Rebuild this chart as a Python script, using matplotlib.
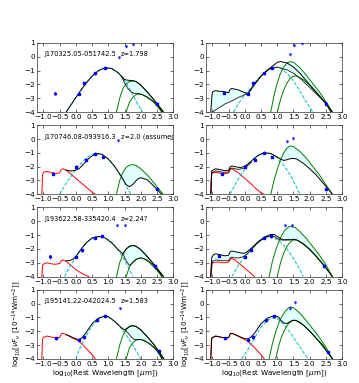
import matplotlib
matplotlib.use('Agg')
import matplotlib.pyplot as plt
import numpy as np

# ---- labels
names = ['J170325.05-051742.5', 'J170746.08-093916.3', 'J193622.58-335420.4', 'J195141.22-042024.5']
redshifts = ['z=1.798', 'z=2.0 (assumed)', 'z=2.24?', 'z=1.583']

# ---- panel A (row 1, left)
A_cyan_x = [-0.3, -0.1, 0.1, 0.3, 0.5, 0.7, 0.9, 1.1, 1.3, 1.5, 1.7, 1.9, 2.05]
A_cyan_y = [-4, -3.3, -2.6, -1.95, -1.4, -1.0, -0.8, -0.85, -1.15, -1.7, -2.5, -3.4, -4]
A_black1_x = [-0.3, -0.1, 0.1, 0.3, 0.5, 0.7, 0.9, 1.1, 1.3, 1.4, 1.5, 1.6, 1.7, 1.8, 1.9, 2.0, 2.2, 2.4, 2.6, 2.7]
A_black1_y = [-4, -3.3, -2.6, -1.95, -1.4, -1.0, -0.8, -0.85, -1.15, -1.4, -1.65, -1.7, -1.72, -1.75, -1.85, -2.05, -2.55, -3.1, -3.7, -4]
A_black2_x = [1.4, 1.5, 1.6, 1.7, 1.8, 1.9, 2.0, 2.2, 2.4, 2.5, 2.6, 2.65]
A_black2_y = [-1.4, -1.9, -2.3, -2.55, -2.65, -2.65, -2.7, -2.9, -3.25, -3.45, -3.8, -4]
A_green1_x = [1.25, 1.35, 1.45, 1.55, 1.65, 1.75, 1.85, 2.0, 2.2, 2.4, 2.6, 2.7]
A_green1_y = [-4, -3.0, -2.3, -1.95, -1.8, -1.75, -1.8, -2.05, -2.55, -3.1, -3.7, -4]
A_green2_x = [1.55, 1.65, 1.75, 1.85, 1.95, 2.05, 2.2, 2.4, 2.55, 2.65]
A_green2_y = [-4, -3.3, -2.95, -2.75, -2.7, -2.75, -2.95, -3.3, -3.7, -4]
A_pts_x = [0.1, 0.25, 0.6, 0.9, 2.5]
A_pts_y = [-2.7, -1.9, -1.2, -0.8, -3.4]
A_arrow = (-0.65, -2.6)
A_lim_x = [1.33, 1.53, 1.75]
A_lim_y = [0.0, 0.75, 0.95]

# ---- panel B (row 1, right)
B_cyan_x = [-0.35, -0.2, 0.0, 0.2, 0.4, 0.6, 0.8, 0.95, 1.1, 1.3, 1.5, 1.7, 1.9, 2.1]
B_cyan_y = [-4, -3.4, -2.75, -2.2, -1.6, -1.15, -0.85, -0.75, -0.85, -1.2, -1.75, -2.5, -3.3, -4]
B_black1_x = [-1.05, -1.02, -1.0, -0.9, -0.8, -0.7, -0.6, -0.5, -0.45, -0.4, -0.3, -0.2, -0.1, 0.0, 0.1, 0.2, 0.3, 0.5, 0.7, 0.9, 1.0, 1.1, 1.2, 1.3, 1.5, 1.7, 1.9, 2.1, 2.3, 2.5, 2.7]
B_black1_y = [-4, -3.0, -2.55, -2.45, -2.5, -2.5, -2.55, -2.6, -2.35, -2.3, -2.35, -2.4, -2.5, -2.6, -2.65, -2.3, -2.0, -1.4, -0.95, -0.6, -0.4, -0.35, -0.4, -0.45, -0.75, -1.2, -1.75, -2.3, -2.85, -3.35, -4]
B_black2_x = [-1.0, -0.8, -0.6, -0.4, -0.2, 0.0, 0.1, 0.2, 0.3, 0.5, 0.7, 0.8, 0.9, 1.0, 1.1, 1.2, 1.3, 1.5, 1.7, 1.9, 2.1, 2.3, 2.5, 2.65]
B_black2_y = [-4, -3.7, -3.4, -3.2, -2.95, -2.75, -2.7, -2.35, -2.0, -1.4, -1.0, -0.85, -0.8, -0.75, -0.8, -0.9, -0.95, -1.2, -1.55, -2.0, -2.45, -2.9, -3.4, -4]
B_green1_x = [0.8, 0.9, 1.0, 1.1, 1.2, 1.3, 1.4, 1.5, 1.7, 1.9, 2.1, 2.3, 2.5, 2.7]
B_green1_y = [-4, -2.8, -1.9, -1.2, -0.75, -0.45, -0.35, -0.4, -0.8, -1.35, -1.95, -2.55, -3.25, -4]
B_green2_x = [1.0, 1.1, 1.2, 1.3, 1.4, 1.5, 1.6, 1.8, 2.0, 2.2, 2.4, 2.6, 2.67]
B_green2_y = [-4, -3.1, -2.4, -1.9, -1.55, -1.4, -1.4, -1.65, -2.05, -2.55, -3.1, -3.7, -4]
B_pts_x = [-0.65, 0.1, 0.25, 0.6, 0.85, 2.5]
B_pts_y = [-2.6, -2.7, -1.9, -1.2, -0.8, -3.4]
B_lim_x = [1.4, 1.53, 1.75]
B_lim_y = [0.2, 0.85, 0.97]

# ---- panel C (row 2, left)
C_red_x = [-1.05, -1.03, -1.0, -0.9, -0.8, -0.7, -0.6, -0.5, -0.45, -0.4, -0.3, -0.2, -0.1, 0.0, 0.1, 0.2, 0.3, 0.4, 0.5, 0.6]
C_red_y = [-4, -2.6, -2.4, -2.35, -2.4, -2.45, -2.5, -2.45, -2.2, -2.15, -2.25, -2.45, -2.65, -2.85, -3.05, -3.25, -3.45, -3.65, -3.85, -4]
C_black_x = [-0.3, -0.2, -0.1, 0.0, 0.1, 0.2, 0.4, 0.6, 0.8, 1.0, 1.2, 1.4, 1.55, 1.65, 1.75, 1.9, 2.0, 2.2, 2.4, 2.6, 2.65]
C_black_y = [-2.25, -2.3, -2.3, -2.25, -2.15, -1.9, -1.4, -1.05, -1.1, -1.45, -2.0, -2.7, -3.3, -3.45, -3.3, -2.9, -2.8, -2.95, -3.4, -3.9, -4]
C_cyan_x = [-0.5, -0.3, -0.1, 0.1, 0.3, 0.5, 0.6, 0.8, 1.0, 1.2, 1.4, 1.6, 1.7]
C_cyan_y = [-4, -3.2, -2.5, -1.9, -1.4, -1.1, -1.05, -1.1, -1.45, -2.0, -2.75, -3.6, -4]
C_green1_x = [1.25, 1.35, 1.45, 1.55, 1.65, 1.75, 1.85, 2.0, 2.2, 2.4, 2.6, 2.7]
C_green1_y = [-4, -3.0, -2.4, -2.05, -1.9, -1.85, -1.9, -2.15, -2.6, -3.15, -3.75, -4]
C_pts_x = [-0.7, 0.0, 0.3, 0.6, 0.85, 2.5]
C_pts_y = [-2.5, -2.0, -1.5, -1.05, -1.3, -3.6]
C_lim_x = [1.3]
C_lim_y = [-0.05]

# ---- panel D (row 2, right)
D_red_x = C_red_x
D_red_y = [-4, -2.6, -2.45, -2.4, -2.45, -2.5, -2.5, -2.45, -2.2, -2.15, -2.3, -2.45, -2.65, -2.85, -3.05, -3.25, -3.5, -3.7, -3.9, -4]
D_black1_x = [-1.05, -1.02, -0.9, -0.8, -0.7, -0.6, -0.5, -0.45, -0.4, -0.3, -0.2, -0.1, 0.0, 0.1, 0.2, 0.4, 0.6, 0.8, 1.0, 1.1, 1.2, 1.3, 1.4, 1.5, 1.6, 1.8, 2.0, 2.2, 2.4, 2.6, 2.7]
D_black1_y = [-4, -2.3, -2.15, -2.2, -2.25, -2.3, -2.25, -2.0, -1.95, -2.0, -2.05, -2.05, -1.95, -1.8, -1.6, -1.2, -1.0, -1.05, -1.3, -1.45, -1.55, -1.5, -1.42, -1.4, -1.45, -1.75, -2.15, -2.6, -3.15, -3.7, -4]
D_black2_x = [-1.05, -1.02, -0.9, -0.7, -0.5, -0.45, -0.4, -0.2, 0.0, 0.2]
D_black2_y = [-4, -2.45, -2.3, -2.4, -2.4, -2.15, -2.1, -2.2, -2.1, -1.7]
D_cyan_x = [-0.45, -0.3, -0.1, 0.1, 0.3, 0.5, 0.6, 0.8, 1.0, 1.2, 1.4, 1.6, 1.7]
D_cyan_y = [-4, -3.3, -2.5, -1.85, -1.35, -1.05, -1.0, -1.05, -1.35, -1.9, -2.6, -3.5, -4]
D_green1_x = [0.8, 0.9, 1.0, 1.1, 1.2, 1.3, 1.4, 1.5, 1.7, 1.9, 2.1, 2.3, 2.5, 2.7]
D_green1_y = [-4, -3.0, -2.2, -1.5, -1.0, -0.65, -0.5, -0.55, -0.9, -1.4, -2.0, -2.6, -3.3, -4]
D_pts_x = [-0.7, 0.0, 0.3, 0.6, 0.85, 2.5]
D_pts_y = [-2.5, -2.0, -1.5, -1.0, -1.3, -3.6]
D_lim_x = [1.3, 1.5]
D_lim_y = [-0.15, 0.1]

# ---- panel E (row 3, left)
E_red_x = [-1.05, -1.03, -1.0, -0.9, -0.8, -0.7, -0.6, -0.5, -0.45, -0.4, -0.3, -0.2, -0.1, 0.0, 0.1, 0.2, 0.3, 0.4]
E_red_y = [-4, -3.2, -3.1, -3.0, -3.05, -3.1, -3.1, -3.05, -2.85, -2.8, -2.9, -3.1, -3.3, -3.5, -3.65, -3.8, -3.9, -4]
E_black1_x = [-0.3, -0.2, -0.1, 0.0, 0.1, 0.3, 0.5, 0.7, 0.9, 1.1, 1.3, 1.45, 1.55, 1.65, 1.75, 1.85, 2.0, 2.2, 2.4, 2.6, 2.7]
E_black1_y = [-2.85, -2.85, -2.75, -2.55, -2.2, -1.6, -1.2, -1.1, -1.2, -1.55, -2.05, -2.35, -2.0, -1.82, -1.75, -1.8, -2.05, -2.55, -3.1, -3.7, -4]
E_black2_x = [1.45, 1.55, 1.65, 1.75, 1.9, 2.0, 2.2, 2.4, 2.6, 2.65]
E_black2_y = [-2.35, -2.85, -3.2, -3.0, -2.7, -2.65, -2.8, -3.2, -3.75, -4]
E_cyan_x = [-0.35, -0.2, 0.0, 0.2, 0.4, 0.6, 0.75, 0.9, 1.1, 1.3, 1.5, 1.65, 1.75]
E_cyan_y = [-4, -3.3, -2.6, -1.9, -1.4, -1.15, -1.1, -1.2, -1.5, -2.05, -2.8, -3.5, -4]
E_green1_x = A_green1_x
E_green1_y = [-4, -3.0, -2.35, -2.0, -1.8, -1.75, -1.8, -2.05, -2.55, -3.1, -3.7, -4]
E_green2_x = [1.55, 1.65, 1.75, 1.85, 2.0, 2.1, 2.25, 2.4, 2.55, 2.65]
E_green2_y = [-4, -3.3, -2.95, -2.75, -2.65, -2.7, -2.95, -3.3, -3.7, -4]
E_pts_x = [0.0, 0.2, 0.6, 0.8, 2.45]
E_pts_y = [-2.55, -2.1, -1.2, -1.1, -3.2]
E_arrow = (-0.8, -2.5)
E_lim_x = [1.27, 1.5]
E_lim_y = [-0.24, -0.24]

# ---- panel F (row 3, right)
F_red_x = [-1.05, -1.03, -1.0, -0.9, -0.8, -0.7, -0.6, -0.5, -0.45, -0.4, -0.3, -0.2, -0.1, 0.0, 0.1, 0.2, 0.3]
F_red_y = [-4, -3.1, -3.0, -2.95, -2.95, -3.0, -3.0, -2.95, -2.75, -2.7, -2.8, -3.0, -3.2, -3.4, -3.6, -3.8, -4]
F_black1_x = [-1.05, -1.02, -0.95, -0.9, -0.8, -0.7, -0.6, -0.5, -0.45, -0.4, -0.3, -0.2, -0.1, 0.0, 0.1, 0.2, 0.4, 0.6, 0.8, 0.9, 1.0, 1.1, 1.2, 1.4, 1.5, 1.6, 1.8, 2.0, 2.2, 2.4, 2.6, 2.7]
F_black1_y = [-4, -2.6, -2.4, -2.35, -2.4, -2.45, -2.5, -2.45, -2.2, -2.15, -2.2, -2.25, -2.3, -2.3, -2.15, -1.95, -1.5, -1.15, -0.95, -0.95, -1.1, -1.25, -1.35, -1.35, -1.3, -1.35, -1.65, -2.05, -2.55, -3.1, -3.7, -4]
F_black2_x = [-1.05, -1.0, -0.9, -0.7, -0.5, -0.45, -0.4, -0.3, -0.2, -0.1, 0.0, 0.1, 0.2, 0.4, 0.6, 0.8, 0.9, 1.0, 1.1, 1.2, 1.4]
F_black2_y = [-4, -2.9, -2.8, -2.85, -2.85, -2.65, -2.6, -2.65, -2.65, -2.6, -2.5, -2.3, -2.05, -1.55, -1.2, -1.05, -1.1, -1.25, -1.35, -1.35, -1.3]
F_cyan_x = [-0.4, -0.2, 0.0, 0.2, 0.4, 0.6, 0.75, 0.9, 1.1, 1.3, 1.5, 1.7, 1.8]
F_cyan_y = [-4, -3.2, -2.55, -2.0, -1.55, -1.2, -1.1, -1.2, -1.5, -2.0, -2.7, -3.5, -4]
F_green1_x = [0.75, 0.85, 0.95, 1.05, 1.15, 1.25, 1.35, 1.45, 1.55, 1.7, 1.9, 2.1, 2.3, 2.5, 2.7]
F_green1_y = [-4, -2.9, -2.1, -1.45, -0.95, -0.6, -0.4, -0.38, -0.45, -0.75, -1.25, -1.85, -2.45, -3.15, -4]
F_green2_x = [1.0, 1.1, 1.2, 1.3, 1.4, 1.5, 1.6, 1.8, 2.0, 2.2, 2.4, 2.6, 2.7]
F_green2_y = [-4, -3.0, -2.3, -1.8, -1.5, -1.35, -1.35, -1.6, -2.0, -2.5, -3.05, -3.65, -4]
F_pts_x = [-0.8, 0.0, 0.2, 0.6, 0.8, 2.45]
F_pts_y = [-2.5, -2.55, -2.1, -1.2, -1.1, -3.2]
F_lim_x = [1.25, 1.45]
F_lim_y = [-0.25, -0.25]

# ---- panel G (row 4, left)
G_red_x = [-1.05, -1.03, -1.0, -0.9, -0.8, -0.7, -0.6, -0.5, -0.45, -0.4, -0.3, -0.2, -0.1, 0.0, 0.1, 0.2, 0.3, 0.4, 0.5, 0.6]
G_red_y = [-4, -2.6, -2.45, -2.35, -2.4, -2.45, -2.5, -2.45, -2.2, -2.15, -2.25, -2.35, -2.5, -2.6, -2.75, -2.95, -3.2, -3.45, -3.7, -4]
G_black1_x = [-0.3, -0.2, -0.1, 0.0, 0.1, 0.2, 0.3, 0.5, 0.7, 0.9, 1.0, 1.2, 1.4, 1.5, 1.6, 1.7, 1.75, 1.85, 2.0, 2.2, 2.4, 2.6, 2.7]
G_black1_y = [-2.25, -2.35, -2.45, -2.55, -2.6, -2.45, -2.15, -1.45, -1.05, -0.9, -0.95, -1.3, -1.75, -1.9, -1.75, -1.62, -1.6, -1.65, -1.9, -2.4, -2.95, -3.6, -4]
G_black2_x = [1.5, 1.6, 1.7, 1.8, 1.9, 2.0, 2.2, 2.4, 2.6, 2.66]
G_black2_y = [-1.9, -2.1, -2.4, -2.6, -2.6, -2.6, -2.8, -3.15, -3.7, -4]
G_cyan_x = [0.0, 0.1, 0.3, 0.5, 0.7, 0.9, 1.1, 1.3, 1.5, 1.7, 1.9, 2.0]
G_cyan_y = [-4, -3.35, -2.4, -1.6, -1.1, -0.9, -1.1, -1.5, -2.1, -2.8, -3.6, -4]
G_green1_x = [1.25, 1.35, 1.45, 1.55, 1.65, 1.75, 1.85, 2.0, 2.2, 2.4, 2.6, 2.72]
G_green1_y = [-4, -3.0, -2.3, -1.9, -1.65, -1.6, -1.65, -1.9, -2.4, -2.95, -3.6, -4]
G_green2_x = [1.55, 1.65, 1.75, 1.85, 2.0, 2.1, 2.3, 2.5, 2.65]
G_green2_y = [-4, -3.2, -2.85, -2.65, -2.6, -2.65, -2.95, -3.4, -4]
G_pts_x = [-0.6, 0.1, 0.25, 0.65, 0.9, 2.55]
G_pts_y = [-2.5, -2.6, -2.4, -1.2, -0.9, -3.4]
G_lim_x = [1.35]
G_lim_y = [-0.35]

# ---- panel H (row 4, right)
H_red_x = G_red_x
H_red_y = G_red_y
H_black1_x = [-1.05, -1.02, -0.9, -0.7, -0.6, -0.5, -0.45, -0.4, -0.3, -0.1, 0.0, 0.1, 0.2, 0.3, 0.5, 0.7, 0.85, 0.95, 1.05, 1.1, 1.2, 1.3, 1.4, 1.5, 1.6, 1.8, 2.0, 2.2, 2.4, 2.55, 2.7]
H_black1_y = [-4, -2.5, -2.35, -2.45, -2.5, -2.45, -2.2, -2.15, -2.25, -2.45, -2.55, -2.55, -2.4, -2.15, -1.45, -1.05, -0.92, -0.9, -1.0, -1.2, -1.4, -1.45, -1.3, -1.2, -1.25, -1.55, -2.0, -2.5, -3.0, -3.5, -4]
H_cyan_x = [-0.1, 0.1, 0.3, 0.5, 0.7, 0.85, 1.0, 1.2, 1.4, 1.6, 1.8, 1.95]
H_cyan_y = [-4, -3.3, -2.5, -1.7, -1.2, -1.05, -1.1, -1.5, -2.1, -2.8, -3.5, -4]
H_green1_x = [0.75, 0.85, 0.95, 1.05, 1.15, 1.25, 1.35, 1.4, 1.5, 1.7, 1.9, 2.1, 2.3, 2.5, 2.7]
H_green1_y = [-4, -2.9, -2.05, -1.4, -0.9, -0.55, -0.3, -0.25, -0.3, -0.7, -1.25, -1.85, -2.45, -3.15, -4]
H_green2_x = [0.95, 1.05, 1.15, 1.25, 1.35, 1.45, 1.55, 1.7, 1.9, 2.1, 2.3, 2.5, 2.7]
H_green2_y = [-4, -3.0, -2.3, -1.8, -1.45, -1.25, -1.2, -1.35, -1.75, -2.25, -2.8, -3.4, -4]
H_pts_x = [-0.6, 0.1, 0.25, 0.65, 0.9, 2.55]
H_pts_y = [-2.5, -2.6, -2.4, -1.2, -0.9, -3.5]
H_lim_x = [1.4, 1.55]
H_lim_y = [-0.3, 0.1]

plt.rcParams['font.size'] = 5.2
plt.rcParams['xtick.direction'] = 'in'
plt.rcParams['ytick.direction'] = 'in'
plt.rcParams['xtick.top'] = True
plt.rcParams['ytick.right'] = True
plt.rcParams['xtick.major.size'] = 2
plt.rcParams['ytick.major.size'] = 2
plt.rcParams['xtick.major.width'] = 0.4
plt.rcParams['ytick.major.width'] = 0.4
plt.rcParams['axes.linewidth'] = 0.5
plt.rcParams['axes.edgecolor'] = '#333333'
plt.rcParams['xtick.major.pad'] = 1.5
plt.rcParams['ytick.major.pad'] = 1.5

LW = 0.7


def line(ax, x, y, style, **kw):
    ax.plot(x, y, style, lw=LW, **kw)


def band(ax, xu, yu, xl, yl, x0, x1):
    ''' shade between an upper and a lower curve, between x0 and x1 '''
    xu, yu, xl, yl = map(np.asarray, (xu, yu, xl, yl))
    mu = (xu >= x0) & (xu <= x1)
    ml = (xl >= x0) & (xl <= x1)
    px = np.concatenate([xu[mu], xl[ml][::-1]])
    py = np.concatenate([yu[mu], yl[ml][::-1]])
    ax.fill(px, py, color='#e0ffff', lw=0, zorder=0)


def points(ax, x, y):
    ax.errorbar(x, y, yerr=0.1, fmt='s', color='b', ms=1.7, lw=0.5, capsize=0, zorder=5)


def limits(ax, x, y):
    ax.errorbar(x, y, yerr=[[0.15] * len(x), [0.0] * len(x)], fmt='s', color='b', ms=0.9,
                lw=0.5, capsize=0, alpha=0.7, zorder=5)


def arrow(ax, xy):
    ax.errorbar([xy[0]], [xy[1]], yerr=[[0.2], [0.0]], fmt='^', color='b', ms=1.7, lw=0.5, zorder=5)


fig, axes = plt.subplots(4, 2, figsize=(3.59, 3.83), dpi=100)
fig.subplots_adjust(left=0.103, right=0.953, top=0.888, bottom=0.063, hspace=0.19, wspace=0.24)

# row 1
ax = axes[0, 0]
band(ax, A_black1_x, A_black1_y, A_black2_x, A_black2_y, 1.4, 2.7)
line(ax, A_cyan_x, A_cyan_y, 'c--')
line(ax, A_green1_x, A_green1_y, 'g-')
line(ax, A_green2_x, A_green2_y, 'g-')
line(ax, A_black1_x, A_black1_y, 'k-')
line(ax, A_black2_x, A_black2_y, 'k-', alpha=0.8)
points(ax, A_pts_x, A_pts_y)
arrow(ax, A_arrow)
limits(ax, A_lim_x, A_lim_y)

ax = axes[0, 1]
band(ax, B_black1_x, B_black1_y, B_black2_x, B_black2_y, -1.05, 0.2)
band(ax, B_green1_x, B_green1_y, B_black2_x, B_black2_y, 1.2, 2.7)
line(ax, B_cyan_x, B_cyan_y, 'c--')
line(ax, B_green1_x, B_green1_y, 'g-')
line(ax, B_green2_x, B_green2_y, 'g-')
line(ax, B_black1_x, B_black1_y, 'k-')
line(ax, B_black2_x, B_black2_y, 'k-', alpha=0.8)
points(ax, B_pts_x, B_pts_y)
limits(ax, B_lim_x, B_lim_y)

# row 2
ax = axes[1, 0]
band(ax, C_green1_x, C_green1_y, C_black_x, C_black_y, 1.4, 2.65)
line(ax, C_red_x, C_red_y, 'r-')
line(ax, C_cyan_x, C_cyan_y, 'c--')
line(ax, C_green1_x, C_green1_y, 'g-')
line(ax, C_black_x, C_black_y, 'k-')
points(ax, C_pts_x, C_pts_y)
limits(ax, C_lim_x, C_lim_y)

ax = axes[1, 1]
band(ax, D_green1_x, D_green1_y, D_black1_x, D_black1_y, 1.1, 2.7)
line(ax, D_red_x, D_red_y, 'r-')
line(ax, D_cyan_x, D_cyan_y, 'c--')
line(ax, D_green1_x, D_green1_y, 'g-')
line(ax, D_black1_x, D_black1_y, 'k-')
line(ax, D_black2_x, D_black2_y, 'k-', alpha=0.8)
points(ax, D_pts_x, D_pts_y)
limits(ax, D_lim_x, D_lim_y)

# row 3
ax = axes[2, 0]
band(ax, E_black1_x, E_black1_y, E_black2_x, E_black2_y, 1.45, 2.7)
line(ax, E_red_x, E_red_y, 'r-')
line(ax, E_cyan_x, E_cyan_y, 'c--')
line(ax, E_green1_x, E_green1_y, 'g-')
line(ax, E_green2_x, E_green2_y, 'g-')
line(ax, E_black1_x, E_black1_y, 'k-')
line(ax, E_black2_x, E_black2_y, 'k-', alpha=0.8)
points(ax, E_pts_x, E_pts_y)
arrow(ax, E_arrow)
limits(ax, E_lim_x, E_lim_y)

ax = axes[2, 1]
band(ax, F_black1_x, F_black1_y, F_black2_x, F_black2_y, -1.05, 0.9)
band(ax, F_green1_x, F_green1_y, F_black1_x, F_black1_y, 1.05, 2.7)
line(ax, F_red_x, F_red_y, 'r-')
line(ax, F_cyan_x, F_cyan_y, 'c--')
line(ax, F_green1_x, F_green1_y, 'g-')
line(ax, F_green2_x, F_green2_y, 'g-')
line(ax, F_black1_x, F_black1_y, 'k-')
line(ax, F_black2_x, F_black2_y, 'k-', alpha=0.8)
points(ax, F_pts_x, F_pts_y)
limits(ax, F_lim_x, F_lim_y)

# row 4
ax = axes[3, 0]
band(ax, G_black1_x, G_black1_y, G_black2_x, G_black2_y, 1.5, 2.7)
line(ax, G_red_x, G_red_y, 'r-')
line(ax, G_cyan_x, G_cyan_y, 'c--')
line(ax, G_green1_x, G_green1_y, 'g-')
line(ax, G_green2_x, G_green2_y, 'g-')
line(ax, G_black1_x, G_black1_y, 'k-')
line(ax, G_black2_x, G_black2_y, 'k-', alpha=0.8)
points(ax, G_pts_x, G_pts_y)
limits(ax, G_lim_x, G_lim_y)

ax = axes[3, 1]
band(ax, H_green1_x, H_green1_y, H_black1_x, H_black1_y, 1.05, 2.7)
line(ax, H_red_x, H_red_y, 'r-')
line(ax, H_cyan_x, H_cyan_y, 'c--')
line(ax, H_green1_x, H_green1_y, 'g-')
line(ax, H_green2_x, H_green2_y, 'g-')
line(ax, H_black1_x, H_black1_y, 'k-')
points(ax, H_pts_x, H_pts_y)
limits(ax, H_lim_x, H_lim_y)

for i in range(4):
    axes[i, 0].text(-0.97, -0.05, names[i], ha='left', va='bottom', fontsize=4.8)
    axes[i, 0].text(1.38, -0.05, redshifts[i], ha='left', va='bottom', fontsize=4.8, clip_on=True)
    for j in range(2):
        ax = axes[i, j]
        ax.set_xlim(-1.2, 3.0)
        ax.set_ylim(-4, 1)
        ax.set_xticks(np.arange(-1.0, 3.01, 0.5))
        ax.set_yticks(np.arange(-4, 1.01, 1))
        if i == 3:
            ax.set_xlabel(r'log$_{10}$(Rest Wavelength [$\mu$m])', labelpad=1)
            ax.set_ylabel(r'log$_{10}$[$\nu F_\nu$ [10$^{-14}$Wm$^{-2}$]]', labelpad=1)

fig.savefig('out.png', dpi=100)
